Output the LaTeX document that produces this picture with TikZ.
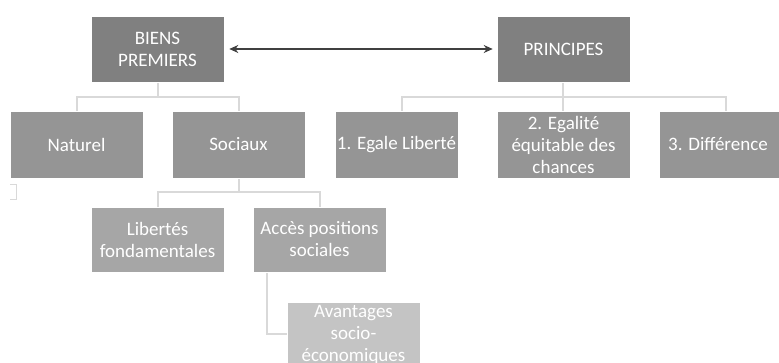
\documentclass[tikz,border=0pt]{standalone}
\usepackage{fontspec}
\setmainfont{Carlito}
\usetikzlibrary{arrows.meta}
\definecolor{lvA}{HTML}{808080}
\definecolor{lvB}{HTML}{959595}
\definecolor{lvC}{HTML}{A6A6A6}
\definecolor{lvD}{HTML}{C4C4C4}
\definecolor{lnk}{HTML}{D9D9D9}
\definecolor{arr}{HTML}{404040}
\begin{document}
\begin{tikzpicture}[x=1pt,y=-1pt,
  txt/.style={text=white,align=center,inner sep=0pt,font=\fontsize{19}{22}\selectfont},
  box/.style={txt,draw=white,line width=0.6pt},
  conn/.style={draw=lnk,line width=1.2pt}]
\useasboundingbox (0,0) rectangle (779,363);
\begin{scope}
\clip (0,0) rectangle (779,363);
% links
\draw[conn] (158,82) -- (158,97) -- (77,97) -- (77,111);
\draw[conn] (158,97) -- (239,97) -- (239,111);
\draw[conn] (563,82) -- (563,97) -- (402,97) -- (402,111);
\draw[conn] (563,97) -- (726,97) -- (726,111);
\draw[conn] (563,97) -- (563,111);
\draw[conn] (239,178) -- (239,192) -- (158,192) -- (158,207);
\draw[conn] (239,192) -- (320,192) -- (320,207);
\draw[conn] (267,272) -- (267,334) -- (287,334);
\draw[draw=lnk,line width=0.8pt] (10,184) -- (16,184) -- (16,199) -- (10,199);
% boxes
\node[box,fill=lvA,minimum width=133,minimum height=66] (bp) at (157.5,49) {BIENS\\PREMIERS};
\node[box,fill=lvA,minimum width=133,minimum height=66] (pr) at (563.5,49) {PRINCIPES};
\node[box,fill=lvB,minimum width=133,minimum height=67] (nat) at (76.5,144.5) {Naturel};
\node[box,fill=lvB,minimum width=133,minimum height=67] (soc) at (238.5,144.5) {Sociaux};
\node[box,fill=lvB,minimum width=123,minimum height=67] (p1) at (396.5,144.5) {1. Egale Liberté};
\node[box,fill=lvB,minimum width=133,minimum height=67] (p2) at (563.5,144.5) {2. Egalité\\équitable des\\chances};
\node[box,fill=lvB,minimum width=133,minimum height=67] (p3) at (725.5,144.5) {};
\node[txt] (p3t) at (718,144.5) {3. Différence};
\node[box,fill=lvC,minimum width=133,minimum height=65] (lib) at (157.5,239.5) {Libertés\\fondamentales};
\node[box,fill=lvC,minimum width=133,minimum height=65] (acc) at (319.5,239.5) {Accès positions\\sociales};
\node[box,fill=lvD,minimum width=133,minimum height=80,anchor=north] (av) at (353.5,302) {};
\node[txt,anchor=north] (avt) at (353.5,305) {Avantages\\socio-\\économiques};
\end{scope}
\draw[arr,line width=2pt,{Stealth[length=9pt,width=8pt]}-{Stealth[length=9pt,width=8pt]}] ([xshift=5pt]bp.east) -- ([xshift=-4pt]pr.west);
\end{tikzpicture}
\end{document}
